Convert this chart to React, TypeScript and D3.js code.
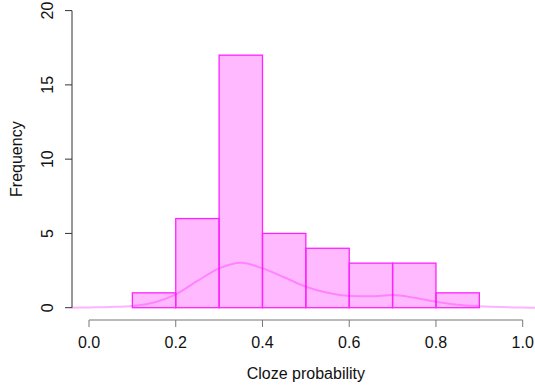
import * as d3 from 'd3';

// histogram bins (lower edge, upper edge, count)
const binStarts = [0.1, 0.2, 0.3, 0.4, 0.5, 0.6, 0.7, 0.8];
const binEnds = [0.2, 0.3, 0.4, 0.5, 0.6, 0.7, 0.8, 0.9];
const counts = [1, 6, 17, 5, 4, 3, 3, 1];

// density curve
const densX = [-0.04, 0, 0.05, 0.1, 0.15, 0.2, 0.25, 0.3, 0.35, 0.4, 0.45, 0.5, 0.55, 0.6, 0.65, 0.7, 0.75, 0.8, 0.85, 0.9, 0.95, 1.0, 1.04];
const densY = [0.0, 0.02, 0.05, 0.12, 0.35, 0.9, 1.8, 2.65, 3.03, 2.65, 2.05, 1.41, 1.0, 0.79, 0.77, 0.85, 0.67, 0.4, 0.2, 0.1, 0.04, 0.01, 0.0];

const xTicks = [0, 0.2, 0.4, 0.6, 0.8, 1.0];
const yTicks = [0, 5, 10, 15, 20];

const W = 535;
const H = 385;

export default function App() {
  const x = d3.scaleLinear().domain([0, 1]).range([89, 522.7]);
  const y = d3.scaleLinear().domain([0, 20]).range([307.7, 10.6]);
  const font = '"Liberation Sans", Arial, sans-serif';

  const line = d3.line<number>()
    .x((d, i) => x(densX[i]))
    .y(d => y(d))
    .curve(d3.curveMonotoneX);

  const xAxisY = 320;
  const yAxisX = 72;

  return (
    <svg width={W} height={H} style={{ position: 'absolute', left: 0, top: 0 }}>
      <defs>
        <clipPath id="plot">
          <rect x={x(-0.04)} y={0} width={x(1.04) - x(-0.04)} height={312} />
        </clipPath>
      </defs>
      {counts.map((c, i) => (
        <rect
          key={i}
          x={x(binStarts[i])}
          y={y(c)}
          width={x(binEnds[i]) - x(binStarts[i])}
          height={y(0) - y(c)}
          fill="rgba(255,0,255,0.27)"
          stroke="#ff22ff"
          strokeWidth={1.3}
        />
      ))}
      <path
        d={line(densY) || ''}
        fill="none"
        stroke="rgba(255,0,255,0.3)"
        strokeWidth={2}
        clipPath="url(#plot)"
      />
      {/* y axis */}
      <line x1={yAxisX} x2={yAxisX} y1={y(0)} y2={y(20)} stroke="#333" strokeWidth={1} />
      {yTicks.map(t => (
        <g key={t}>
          <line x1={yAxisX - 7} x2={yAxisX} y1={y(t)} y2={y(t)} stroke="#333" strokeWidth={1} />
          <text
            transform={`translate(${53},${y(t)}) rotate(-90)`}
            textAnchor="middle"
            fontFamily={font}
            fontSize={16}
            fill="#111"
          >{t}</text>
        </g>
      ))}
      <text
        transform={`translate(${22},${y(10)}) rotate(-90)`}
        textAnchor="middle"
        fontFamily={font}
        fontSize={16}
        fill="#111"
      >Frequency</text>
      {/* x axis */}
      <line x1={x(0)} x2={x(1)} y1={xAxisY} y2={xAxisY} stroke="#777" strokeWidth={1} />
      {xTicks.map(t => (
        <g key={t}>
          <line x1={x(t)} x2={x(t)} y1={xAxisY} y2={xAxisY + 7} stroke="#777" strokeWidth={1} />
          <text
            x={x(t)}
            y={348}
            textAnchor="middle"
            fontFamily={font}
            fontSize={16}
            fill="#111"
          >{t.toFixed(1)}</text>
        </g>
      ))}
      <text
        x={(x(-0.04) + x(1.04)) / 2}
        y={379}
        textAnchor="middle"
        fontFamily={font}
        fontSize={16}
        fill="#111"
      >Cloze probability</text>
    </svg>
  );
}
